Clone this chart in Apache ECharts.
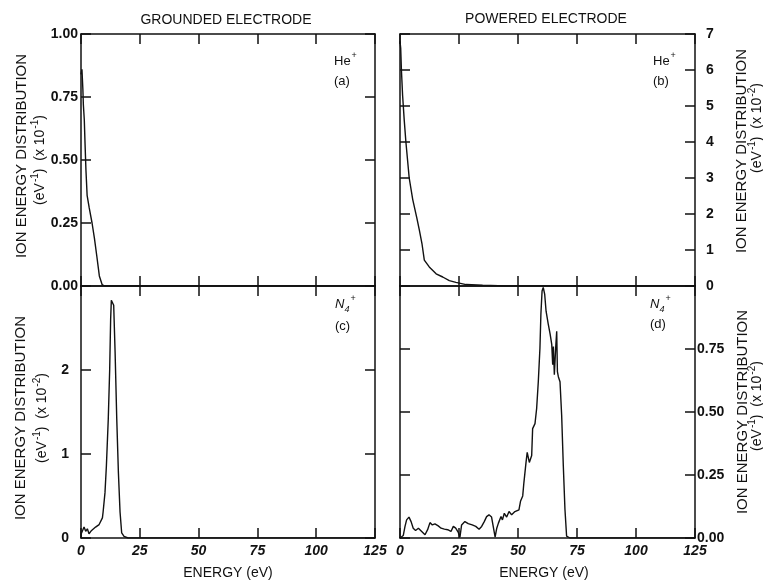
<!DOCTYPE html>
<html>
<head>
<meta charset="utf-8">
<script src="https://cdn.jsdelivr.net/npm/echarts@6/dist/echarts.min.js"></script>
<style>
html,body{margin:0;padding:0;background:#fff;}
#chart{width:763px;height:584px;}
</style>
</head>
<body>
<div id="chart"></div>
<script>
// ---- Data ----
// (a) He+ at grounded electrode, units x10^-1 eV^-1
const energyA = [0, 0.4, 0.8, 1.0, 1.4, 1.7, 2.1, 2.6, 3.5, 4.7, 5.7, 6.7, 7.8, 9, 10, 125];
const heGrounded = [0.84, 0.86, 0.78, 0.72, 0.66, 0.57, 0.46, 0.36, 0.31, 0.25, 0.19, 0.12, 0.04, 0.005, 0, 0];

// (b) He+ at powered electrode, units x10^-2 eV^-1
const energyB = [0, 0.3, 0.6, 1.1, 1.8, 2.5, 3.9, 5.4, 7.1, 8.2, 9.3, 10.3, 12.4, 15.3, 18.1, 20.9, 23.7, 28, 35, 45, 125];
const hePowered = [6.8, 6.6, 6.0, 5.3, 4.6, 4.0, 3.0, 2.4, 1.9, 1.55, 1.18, 0.72, 0.53, 0.34, 0.25, 0.15, 0.1, 0.04, 0.02, 0, 0];

// (c) N4+ at grounded electrode, units x10^-2 eV^-1
const energyC = [0, 0.1, 1.3, 2.0, 2.7, 3.4, 4.5, 6.2, 7.7, 9.1, 9.4, 10.2, 10.8, 11.6, 12.2, 12.6, 12.9, 13.6, 13.9, 14.5, 15.2, 15.9, 16.6, 17.3, 18.3, 20, 125];
const n4Grounded = [0, 0.05, 0.13, 0.08, 0.11, 0.05, 0.09, 0.13, 0.16, 0.24, 0.31, 0.54, 0.86, 1.42, 2.01, 2.6, 2.83, 2.84, 2.77, 2.21, 1.42, 0.78, 0.31, 0.06, 0.02, 0, 0];

// (d) N4+ at powered electrode, units x10^-2 eV^-1
const energyD = [0, 0.4, 1.4, 2.1, 2.8, 3.8, 4.7, 5.6, 6.6, 7.8, 9.2, 10.6, 11.7, 12.7, 13.7, 14.8, 16.2, 17.4, 18.8, 20.2, 21.6, 22.6, 23.6, 24.7, 25.4, 26.1, 27.5, 28.9, 30.6, 32.1, 33.5, 34.6, 35.7, 36.7, 37.7, 38.8, 39.5, 40.3, 41, 41.7, 42.8, 43.4, 44.2, 45.2, 46.2, 47.3, 48.7, 50.4, 51.1, 52, 52.5, 53.4, 53.9, 54.8, 55.8, 56.2, 57.2, 57.9, 58.6, 59.3, 59.7, 60.2, 60.7, 61.3, 61.9, 62.8, 63.6, 64.3, 64.7, 65, 65.4, 66, 66.4, 66.7, 67.1, 67.8, 68.5, 69.2, 69.9, 70.6, 72, 125];
const n4Powered = [0, 0.005, 0.01, 0.045, 0.072, 0.083, 0.065, 0.039, 0.03, 0.039, 0.026, 0.013, 0.033, 0.061, 0.052, 0.056, 0.048, 0.039, 0.035, 0.033, 0.026, 0.046, 0.039, 0.022, 0.003, 0.052, 0.065, 0.057, 0.052, 0.046, 0.035, 0.046, 0.065, 0.085, 0.092, 0.083, 0.046, 0.003, 0.039, 0.059, 0.085, 0.072, 0.098, 0.083, 0.105, 0.092, 0.105, 0.112, 0.147, 0.167, 0.22, 0.30, 0.34, 0.30, 0.327, 0.434, 0.454, 0.514, 0.62, 0.754, 0.888, 0.98, 0.994, 0.968, 0.90, 0.85, 0.81, 0.768, 0.688, 0.76, 0.648, 0.76, 0.82, 0.66, 0.64, 0.62, 0.487, 0.287, 0.113, 0.007, 0, 0];

// Axis ticks
const energyTicks = [0, 25, 50, 75, 100, 125];
const yTicksA = [0, 0.25, 0.5, 0.75, 1.0];
const yTicksB = [0, 1, 2, 3, 4, 5, 6, 7];
const yTicksC = [0, 1, 2];
const yTicksD = [0, 0.25, 0.5, 0.75];

// ---- Build chart ----
const INK = '#111';
const FONT = '"Liberation Sans", Arial, Helvetica, sans-serif';
const zip = (xs, ys) => xs.map((x, i) => [x, ys[i]]);

const grids = [
  {left: 81, top: 34, width: 294, height: 252},
  {left: 400, top: 34, width: 295, height: 252},
  {left: 81, top: 286, width: 294, height: 252},
  {left: 400, top: 286, width: 295, height: 252}
];

const axisLine = {show: true, onZero: false, lineStyle: {color: INK, width: 1.5}};
const tickStyle = {color: INK, width: 1.5};

function xAxisFor(g, pos, showLabel) {
  return {
    type: 'value', gridIndex: g, position: pos,
    min: energyTicks[0], max: energyTicks[energyTicks.length - 1], interval: 25,
    axisLine: axisLine,
    axisTick: {show: true, inside: true, length: 10, lineStyle: tickStyle},
    axisLabel: {show: showLabel, margin: 6, color: INK, fontFamily: FONT, fontSize: 14,
      fontWeight: 'bold', fontStyle: 'italic'},
    splitLine: {show: false}
  };
}

function yAxisFor(g, pos, ticks, max, interval, showLabel, margin, decimals) {
  return {
    type: 'value', gridIndex: g, position: pos,
    min: 0, max: max, interval: interval,
    axisLine: axisLine,
    axisTick: {show: true, inside: true, length: 10, lineStyle: tickStyle},
    axisLabel: {
      show: showLabel, margin: margin, color: INK, fontFamily: FONT, fontSize: 14, fontWeight: 'bold',
      formatter: function (v) {
        const hit = ticks.some(t => Math.abs(t - v) < 1e-6);
        return hit ? v.toFixed(decimals) : '';
      }
    },
    splitLine: {show: false}
  };
}

const xAxes = [
  xAxisFor(0, 'bottom', false), xAxisFor(0, 'top', false),
  xAxisFor(1, 'bottom', false), xAxisFor(1, 'top', false),
  xAxisFor(2, 'bottom', true), xAxisFor(2, 'top', false),
  xAxisFor(3, 'bottom', true), xAxisFor(3, 'top', false)
];
const yAxes = [
  yAxisFor(0, 'left', yTicksA, 1.0, 0.25, true, 3, 2), yAxisFor(0, 'right', yTicksA, 1.0, 0.25, false, 3, 2),
  yAxisFor(1, 'left', yTicksB, 7, 1, false, 11, 0), yAxisFor(1, 'right', yTicksB, 7, 1, true, 11, 0),
  yAxisFor(2, 'left', yTicksC, 3, 1, true, 12, 0), yAxisFor(2, 'right', yTicksC, 3, 1, false, 12, 0),
  yAxisFor(3, 'left', yTicksD, 1.0, 0.25, false, 2, 2), yAxisFor(3, 'right', yTicksD, 1.0, 0.25, true, 2, 2)
];

function lineSeries(name, idx, data) {
  return {
    name: name, type: 'line', xAxisIndex: idx, yAxisIndex: idx,
    data: data, showSymbol: false, symbol: 'none', smooth: false, animation: false,
    lineStyle: {color: INK, width: 1.4}, z: 3
  };
}

const series = [
  lineSeries('He+ grounded', 0, zip(energyA, heGrounded)),
  lineSeries('He+ powered', 2, zip(energyB, hePowered)),
  lineSeries('N4+ grounded', 4, zip(energyC, n4Grounded)),
  lineSeries('N4+ powered', 6, zip(energyD, n4Powered))
];

function richStyles(size) {
  const f = FONT;
  return {
    t: {fontSize: size, fontFamily: f, fill: INK, lineHeight: size + 6, verticalAlign: 'bottom', padding: [0, 0, 3, 0]},
    ti: {fontSize: size, fontFamily: f, fontStyle: 'italic', fill: INK, lineHeight: size + 6, verticalAlign: 'bottom', padding: [0, 0, 3, 0]},
    sup: {fontSize: Math.round(size * 0.7), fontFamily: f, fill: INK, lineHeight: size + 6, verticalAlign: 'top', padding: [0, 0, 0, 1]},
    sub: {fontSize: Math.round(size * 0.7), fontFamily: f, fontStyle: 'italic', fill: INK, lineHeight: size + 6, verticalAlign: 'bottom', padding: [0, 0, 0, 0]}
  };
}

function txt(x, y, text, size, opts) {
  opts = opts || {};
  const style = {
    text: text, fill: INK,
    font: (opts.style || 'normal') + ' ' + (opts.weight || 'normal') + ' ' + size + 'px ' + FONT,
    align: opts.align || 'center', verticalAlign: 'middle'
  };
  if (opts.rich) style.rich = richStyles(size);
  return {type: 'text', x: x, y: y, rotation: opts.rot || 0, silent: true, z: 10, style: style};
}

const R = Math.PI / 2;
const unitsM1 = '{t|(eV}{sup|-1}{t|)  (x 10}{sup|-1}{t|)}';
const unitsM2 = '{t|(eV}{sup|-1}{t|)  (x 10}{sup|-2}{t|)}';
const heLabel = '{t|He}{sup|+}';
const n4Label = '{ti|N}{sub|4}{sup|+}';

const graphics = [
  txt(226, 20, 'GROUNDED ELECTRODE', 14),
  txt(546, 19, 'POWERED ELECTRODE', 14),
  txt(228, 573, 'ENERGY (eV)', 14),
  txt(544, 573, 'ENERGY (eV)', 14),
  // left titles
  txt(22, 156, 'ION ENERGY DISTRIBUTION', 15, {rot: R}),
  txt(40, 160, unitsM1, 14, {rot: R, rich: true}),
  txt(21, 418, 'ION ENERGY DISTRIBUTION', 15, {rot: R}),
  txt(42, 418, unitsM2, 14, {rot: R, rich: true}),
  // right titles
  txt(742, 151, 'ION ENERGY DISTRIBUTION', 15, {rot: R}),
  txt(757, 128, unitsM2, 14, {rot: R, rich: true}),
  txt(743, 412, 'ION ENERGY DISTRIBUTION', 15, {rot: R}),
  txt(757, 406, unitsM2, 14, {rot: R, rich: true}),
  // panel labels
  txt(334, 61, heLabel, 13, {align: 'left', rich: true}),
  txt(334, 81, '(a)', 13, {align: 'left'}),
  txt(653, 61, heLabel, 13, {align: 'left', rich: true}),
  txt(653, 81, '(b)', 13, {align: 'left'}),
  txt(335, 304, n4Label, 13, {align: 'left', rich: true}),
  txt(335, 326, '(c)', 13, {align: 'left'}),
  txt(650, 304, n4Label, 13, {align: 'left', rich: true}),
  txt(650, 324, '(d)', 13, {align: 'left'})
];

const chart = echarts.init(document.getElementById('chart'), null, {renderer: 'canvas'});
chart.setOption({
  animation: false,
  backgroundColor: '#fff',
  grid: grids,
  xAxis: xAxes,
  yAxis: yAxes,
  series: series,
  graphic: graphics
});
</script>
</body>
</html>
